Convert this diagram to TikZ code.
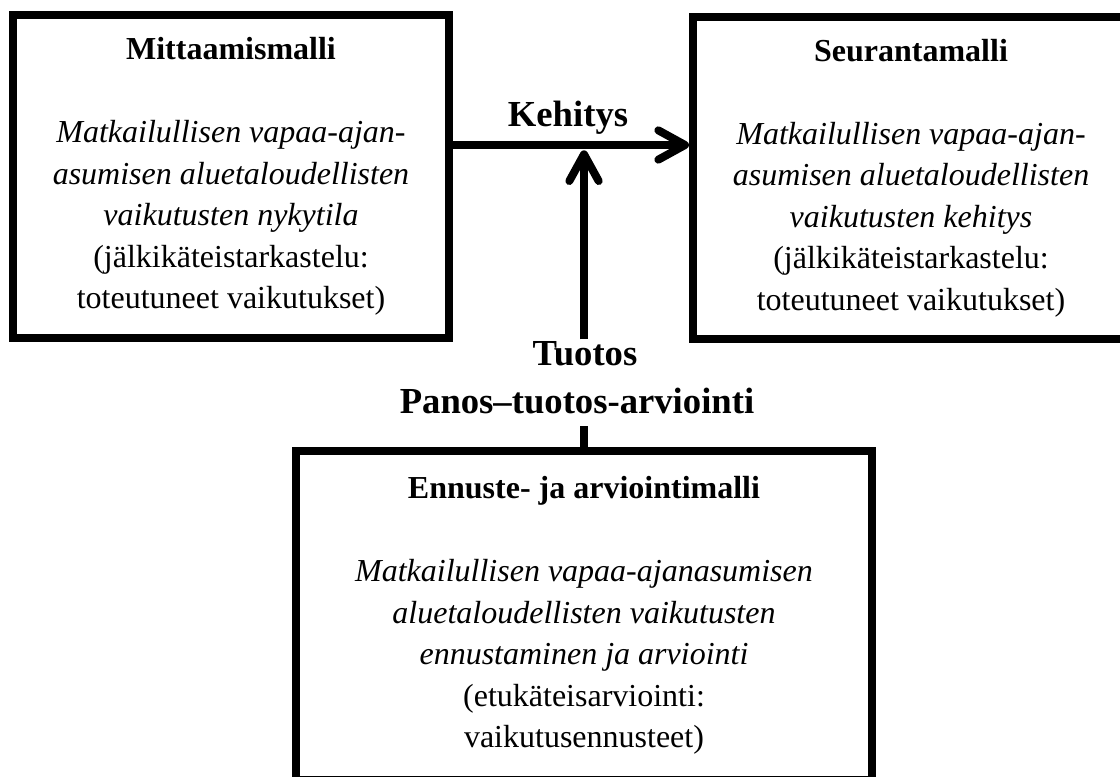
\documentclass[tikz,border=0pt]{standalone}
\usepackage{fontspec}
\setmainfont{Liberation Serif}
\usetikzlibrary{arrows.meta}
\begin{document}
\begin{tikzpicture}[x=0.75pt,y=-0.75pt,
  box/.style={draw,line width=6pt,align=center,inner sep=0pt,font=\fontsize{24}{31.1}\selectfont},
  lbl/.style={font=\fontsize{27.5}{33}\selectfont\bfseries,inner sep=0pt},
  arr/.style={line width=6pt,-{Straight Barb[length=20pt,width=22pt,round]}}]
\clip (0,0) rectangle (1120,777);
\fill[white] (0,0) rectangle (1120,777);
\node[box,minimum width=327pt,minimum height=242.25pt] (mitta) at (231,176.5)
  {\textbf{Mittaamismalli}\\[31.1pt]
   \textit{Matkailullisen vapaa-ajan-}\\
   \textit{asumisen aluetaloudellisten}\\
   \textit{vaikutusten nykytila}\\
   (jälkikäteistarkastelu:\\
   toteutuneet vaikutukset)};
\node[box,minimum width=327pt,minimum height=241.5pt] (seur) at (911,178)
  {\textbf{Seurantamalli}\\[31.1pt]
   \textit{Matkailullisen vapaa-ajan-}\\
   \textit{asumisen aluetaloudellisten}\\
   \textit{vaikutusten kehitys}\\
   (jälkikäteistarkastelu:\\
   toteutuneet vaikutukset)};
\node[box,minimum width=432pt,minimum height=246.75pt] (ennuste) at (584,615.5)
  {\textbf{Ennuste- ja arviointimalli}\\[31.1pt]
   \textit{Matkailullisen vapaa-ajanasumisen}\\
   \textit{aluetaloudellisten vaikutusten}\\
   \textit{ennustaminen ja arviointi}\\
   (etukäteisarviointi:\\
   vaikutusennusteet)};
\coordinate (meet) at (584,145);
\node[lbl,anchor=base] (keh) at (568,127) {Kehitys};
\node[lbl,anchor=base,inner ysep=1pt] (tuo) at (585,365) {Tuotos};
\node[lbl,anchor=base,inner ysep=9pt] (pan) at (577,413) {Panos–tuotos-arviointi};
\draw[arr] (mitta.east |- meet) -- (seur.west |- meet);
\draw[arr] (ennuste.north |- tuo.north) -- ([yshift=-4pt]meet);
\draw[line width=6pt] (ennuste.north) -- (ennuste.north |- pan.south);
\end{tikzpicture}
\end{document}
